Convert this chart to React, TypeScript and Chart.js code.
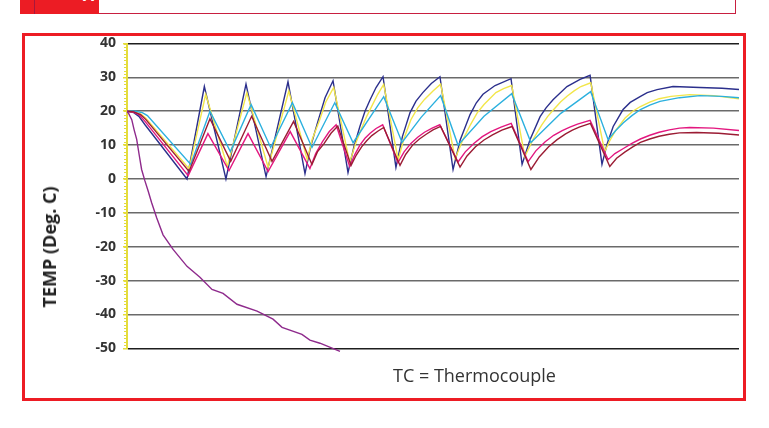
import React, { useEffect, useRef } from "react";
import Chart from "chart.js/auto";

// TC temperature traces, time axis in minutes (0 .. 360), temperature in deg C
const timeMin = 0;
const timeMax = 360;
const tempTicks = [-50, -40, -30, -20, -10, 0, 10, 20, 30, 40];
const minorStep = 1;

const navyT = [
  0, 4, 7, 10.6, 35.3, 45.5, 58.2, 70, 81.8, 94.7, 104.7, 108, 112, 116.5, 121.2,
  130, 133.5, 137, 140, 143, 146.5, 150.6, 158.2, 162, 166.5, 170, 174, 179,
  184.1, 191.8, 196, 201.8, 205.5, 209.4, 216.5, 225.9, 232.4, 237, 243, 246.5,
  250.6, 258.8, 266.5, 272.4, 279.4, 282.5, 286, 291.8, 296, 301.8, 306, 311.8,
  321.2, 337, 350, 360,
];
const navyC = [
  20, 19.6, 18.5, 16, 0, 27.3, 0, 28, 0.7, 28.7, 1.6, 9.5, 16.5, 24, 29, 1.9,
  9.5, 15.5, 20, 23.4, 27, 30.2, 3.4, 12.5, 19.6, 23, 25.5, 28.2, 30.2, 2.8,
  11.5, 19, 22.5, 25, 27.6, 29.6, 4.3, 11.5, 18.4, 21, 23.4, 27.3, 29.4, 30.6,
  4.3, 10.5, 15.5, 20.5, 22.6, 24.3, 25.5, 26.4, 27.3, 27, 26.8, 26.4,
];

const yellowT = [
  0, 4, 8, 11, 36.5, 46.3, 59, 70.5, 83, 95.2, 106, 109, 113, 117, 121.6, 131,
  134.5, 138, 141, 144, 147.5, 151, 159.5, 163, 167, 171, 175, 180, 184.5, 193,
  197.5, 202, 206, 210, 217, 221.5, 226.3, 234, 239, 244, 247.5, 251, 255, 259,
  263, 267, 272.8, 281, 284, 287, 293, 297.5, 302, 307.5, 313, 320, 331, 345,
  360,
];
const yellowC = [
  20, 19.8, 19.2, 18, 3, 25, 3.7, 25.5, 3.4, 26, 5.7, 11.8, 17, 22.8, 27, 4.9,
  10.5, 15, 18.5, 21.5, 25, 27.9, 5.7, 12, 17.5, 21, 23.5, 26, 28, 6, 11.5, 16,
  19.5, 22, 25.5, 26.7, 27.6, 6.6, 11.8, 16, 18.5, 20.5, 22.7, 24.5, 26, 27.3,
  28.4, 8.1, 11.3, 14, 18, 20, 21.4, 22.7, 23.7, 24.4, 24.9, 24.6, 23.7,
];

const cyanT = [
  0, 5, 9, 12, 37.5, 48.8, 60.8, 73, 84.5, 97.3, 108.8, 122.2, 133, 151, 161.8,
  173, 184.5, 194.7, 210, 226.3, 237.6, 255, 272.7, 283, 287.5, 292, 297, 302,
  307.5, 313.5, 325, 337, 350, 360,
];
const cyanC = [
  20, 20, 19.6, 18.7, 4.3, 20, 8.1, 22, 9.3, 22.5, 9.3, 22.5, 10.7, 24.3, 10.8,
  18.2, 24.6, 10, 18.5, 25.2, 10.8, 19.3, 25.8, 11.6, 14.3, 16.6, 18.7, 20.5,
  21.8, 22.9, 24, 24.6, 24.4, 24,
];

const maroonT = [
  0, 4, 8, 11, 36.5, 48.8, 61, 73.3, 85.3, 98, 108.8, 112, 116, 120, 124, 131.8,
  134.8, 138, 141, 144, 147.5, 151, 160.6, 164, 168, 172, 176, 180, 184.5, 195.9,
  200, 205, 210, 215, 220.5, 226.5, 237.6, 242.5, 248, 253, 258, 262, 266,
  272.6, 284, 288, 293, 297.5, 302, 307.5, 313, 319, 325, 335, 348, 360,
];
const maroonC = [
  20, 19.8, 19, 17.6, 2.2, 17.8, 5.2, 18.5, 5.2, 17, 4.3, 8, 10.5, 13.5, 15.6, 4,
  7, 9.5, 11.3, 12.8, 14.1, 15.2, 4, 7.3, 10, 11.8, 13.2, 14.5, 15.5, 3.5, 6.8,
  9.5, 11.5, 13, 14.4, 15.5, 2.8, 6.5, 9.5, 11.6, 13.3, 14.4, 15.3, 16.4, 3.7,
  6.1, 8, 9.5, 10.8, 11.8, 12.6, 13.2, 13.6, 13.7, 13.5, 13,
];

const magentaT = [
  0, 4, 7, 10.6, 36, 47.6, 60, 71.2, 83, 96, 107.6, 111, 115, 119, 123, 131, 134,
  137, 140, 143, 146.5, 150.4, 159.4, 163, 167, 171, 175, 179.5, 184, 194.7, 199,
  204, 209, 214, 220, 226, 236, 240.5, 246, 251, 256, 260.5, 265, 272.4, 283, 287,
  292, 297, 302, 307.5, 313, 319, 325, 331, 345, 360,
];
const magentaC = [
  20, 19.7, 19, 17, 1, 13.4, 2.5, 13.4, 2.2, 14, 3.1, 7.5, 11, 14, 16, 3.7, 7.2,
  10, 12, 13.5, 14.9, 16, 4.8, 8, 10.5, 12.3, 13.8, 15, 16, 5, 8, 10.5, 12.5, 14,
  15.3, 16.4, 5.1, 8.3, 11, 12.9, 14.3, 15.3, 16.2, 17.3, 5.7, 7.5, 9, 10.5, 11.8,
  12.9, 13.8, 14.5, 15, 15.2, 15, 14.3,
];

const purpleT = [
  0, 1, 2.8, 4.2, 5.7, 7.2, 8.6, 10.5, 12.4, 14.5, 17.5, 21.2, 27.1, 35.3, 42.9,
  50, 56.5, 64.7, 76.5, 85.9, 91.2, 102.9, 107.6, 113.5, 125.3,
];
const purpleC = [
  20, 19.3, 17.5, 14.5, 11.7, 7, 2.8, -0.5, -3.5, -7, -11.5, -16.5, -20.8,
  -25.8, -29, -32.6, -33.8, -37, -39, -41.4, -43.8, -45.9, -47.6, -48.5, -50.9,
];

const AXIS_YELLOW = "#e4dc3c";

const toPoints = (t: number[], c: number[]) =>
  t.map((x, i) => ({ x, y: c[i] }));

// small yellow minor ticks along the temperature axis
const minorTicksPlugin = {
  id: "minorTicks",
  afterDraw(chart: Chart) {
    const scale = chart.scales.y;
    const ctx = chart.ctx;
    ctx.save();
    ctx.strokeStyle = AXIS_YELLOW;
    ctx.lineWidth = 1;
    for (let v = tempTicks[0]; v <= tempTicks[tempTicks.length - 1]; v += minorStep) {
      const py = Math.round(scale.getPixelForValue(v)) + 0.5;
      ctx.beginPath();
      ctx.moveTo(scale.right - 3, py);
      ctx.lineTo(scale.right, py);
      ctx.stroke();
    }
    ctx.restore();
  },
};

export default function App() {
  const canvasRef = useRef<HTMLCanvasElement>(null);

  useEffect(() => {
    const canvas = canvasRef.current;
    if (!canvas) return;

    const trace = (label: string, t: number[], c: number[], color: string) => ({
      label,
      data: toPoints(t, c),
      borderColor: color,
      borderWidth: 1.4,
      pointRadius: 0,
      tension: 0,
      fill: false,
      clip: false as const,
    });

    const chart = new Chart(canvas, {
      type: "line",
      data: {
        datasets: [
          trace("TC 6", purpleT, purpleC, "#8e2a8c"),
          trace("TC 5", maroonT, maroonC, "#9b1c34"),
          trace("TC 4", magentaT, magentaC, "#e3177f"),
          trace("TC 3", cyanT, cyanC, "#2bb0de"),
          trace("TC 2", yellowT, yellowC, "#f2e64a"),
          trace("TC 1", navyT, navyC, "#2b2f8c"),
        ],
      },
      options: {
        animation: false,
        responsive: false,
        maintainAspectRatio: false,
        layout: { padding: { left: 0, top: 43.5, right: 30, bottom: 79.7 } },
        plugins: {
          legend: { display: false },
          tooltip: { enabled: false },
        },
        scales: {
          x: { type: "linear", min: timeMin, max: timeMax, display: false },
          y: {
            min: tempTicks[0],
            max: tempTicks[tempTicks.length - 1],
            afterFit: (scale: any) => {
              scale.width = 127;
            },
            afterBuildTicks: (scale: any) => {
              scale.ticks = tempTicks.map((value) => ({ value }));
            },
            border: { color: AXIS_YELLOW, width: 2 },
            grid: {
              color: (ctx: any) =>
                ctx.tick && (ctx.tick.value === 40 || ctx.tick.value === -50)
                  ? "#1e1e1e"
                  : "#6a6a6a",
              lineWidth: 1.5,
              tickColor: AXIS_YELLOW,
              tickLength: 4,
            },
            ticks: {
              padding: 7,
              color: "#333333",
              font: { family: "'Open Sans', sans-serif", size: 14, weight: "bold" },
            },
          },
        },
      },
      plugins: [minorTicksPlugin],
    });

    return () => {
      chart.destroy();
    };
  }, []);

  return (
    <div
      style={{
        position: "absolute",
        left: 0,
        top: 0,
        width: 769,
        height: 428,
        overflow: "hidden",
        background: "#ffffff",
        fontFamily: "'Open Sans', sans-serif",
      }}
    >
      {/* top box remnant */}
      <div
        style={{
          position: "absolute",
          left: 20,
          top: -20,
          width: 716,
          height: 34,
          border: "1.5px solid #c81f40",
          boxSizing: "border-box",
        }}
      />
      <div
        style={{
          position: "absolute",
          left: 20,
          top: 0,
          width: 79,
          height: 14,
          background: "#ec1c24",
          overflow: "hidden",
        }}
      >
        <div
          style={{
            position: "absolute",
            left: 14,
            top: 0,
            width: 1,
            height: 14,
            background: "#a8173c",
          }}
        />
        <div
          style={{
            position: "absolute",
            left: 63,
            top: -13,
            fontSize: 16,
            lineHeight: "16px",
            fontWeight: 700,
            color: "#ffffff",
          }}
        >
          A
        </div>
      </div>
      {/* chart frame */}
      <div
        style={{
          position: "absolute",
          left: 22,
          top: 33,
          width: 724,
          height: 368,
          border: "3px solid #ed1c24",
          boxSizing: "border-box",
        }}
      />
      <canvas
        ref={canvasRef}
        width={769}
        height={428}
        style={{ position: "absolute", left: 0, top: 0, width: 769, height: 428 }}
      />
      <div
        style={{
          position: "absolute",
          left: 49,
          top: 247,
          transform: "translate(-50%, -50%) rotate(-90deg)",
          whiteSpace: "nowrap",
          fontSize: 18,
          fontWeight: 700,
          color: "#222222",
          lineHeight: "20px",
        }}
      >
        TEMP (Deg. C)
      </div>
      <div
        style={{
          position: "absolute",
          left: 393,
          top: 366,
          fontSize: 18,
          lineHeight: "18px",
          color: "#333333",
          whiteSpace: "nowrap",
        }}
      >
        TC = Thermocouple
      </div>
    </div>
  );
}
